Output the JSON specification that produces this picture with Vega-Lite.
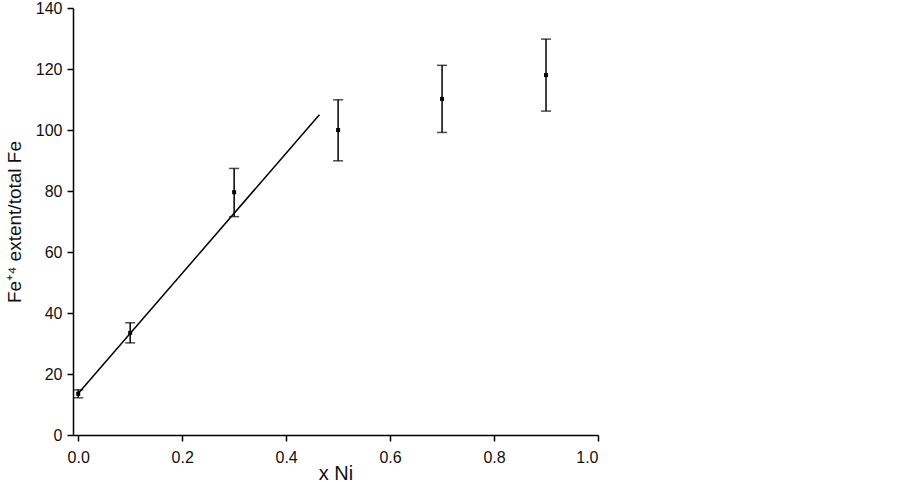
{
  "$schema": "https://vega.github.io/schema/vega-lite/v6.json",
  "autosize": {"type": "none"},
  "width": 525,
  "height": 427,
  "padding": {"left": 73, "top": 8, "right": 304, "bottom": 47},
  "background": "white",
  "config": {
    "view": {"stroke": null},
    "font": "Liberation Sans",
    "axis": {
      "grid": false,
      "domainColor": "black",
      "domainWidth": 1.5,
      "tickColor": "black",
      "tickWidth": 1.5,
      "tickSize": 6,
      "labelColor": "#111",
      "labelFont": "Liberation Sans",
      "labelFontSize": 16,
      "titleFont": "Liberation Sans",
      "titleFontSize": 20,
      "titleFontWeight": "normal",
      "titleColor": "#111"
    }
  },
  "datasets": {
    "pts": [
      {"x": 0.0, "y": 13.5, "lo": 12.2, "hi": 14.8},
      {"x": 0.1, "y": 33.5, "lo": 30.2, "hi": 36.8},
      {"x": 0.3, "y": 79.6, "lo": 71.6, "hi": 87.4},
      {"x": 0.5, "y": 100.0, "lo": 89.9, "hi": 109.9},
      {"x": 0.7, "y": 110.2, "lo": 99.2, "hi": 121.2},
      {"x": 0.9, "y": 118.0, "lo": 106.2, "hi": 129.8}
    ],
    "fit": [
      {"x": 0.0, "y": 13.6},
      {"x": 0.464, "y": 105.0}
    ]
  },
  "layer": [
    {
      "data": {"name": "fit"},
      "mark": {"type": "line", "color": "black", "strokeWidth": 1.5},
      "encoding": {
        "x": {
          "field": "x", "type": "quantitative",
          "scale": {"domain": [-0.01, 1.0], "nice": false, "zero": false},
          "axis": {"values": [0, 0.2, 0.4, 0.6, 0.8, 1.0], "format": ".1f", "title": "x Ni", "labelPadding": 8, "titlePadding": -2}
        },
        "y": {
          "field": "y", "type": "quantitative",
          "scale": {"domain": [0, 140], "nice": false},
          "axis": {"values": [0, 20, 40, 60, 80, 100, 120, 140], "title": "Fe⁺⁴ extent/total Fe", "titleFontSize": 19, "labelPadding": 5, "titlePadding": 11}
        }
      }
    },
    {
      "data": {"name": "pts"},
      "mark": {"type": "rule", "color": "black", "strokeWidth": 1.5},
      "encoding": {
        "x": {"field": "x", "type": "quantitative"},
        "y": {"field": "lo", "type": "quantitative"},
        "y2": {"field": "hi"}
      }
    },
    {
      "data": {"name": "pts"},
      "mark": {"type": "tick", "orient": "horizontal", "color": "black", "size": 10, "thickness": 1.5},
      "encoding": {
        "x": {"field": "x", "type": "quantitative"},
        "y": {"field": "lo", "type": "quantitative"}
      }
    },
    {
      "data": {"name": "pts"},
      "mark": {"type": "tick", "orient": "horizontal", "color": "black", "size": 10, "thickness": 1.5},
      "encoding": {
        "x": {"field": "x", "type": "quantitative"},
        "y": {"field": "hi", "type": "quantitative"}
      }
    },
    {
      "data": {"name": "pts"},
      "mark": {"type": "square", "color": "black", "filled": true, "opacity": 1, "size": 16},
      "encoding": {
        "x": {"field": "x", "type": "quantitative"},
        "y": {"field": "y", "type": "quantitative"}
      }
    }
  ]
}
